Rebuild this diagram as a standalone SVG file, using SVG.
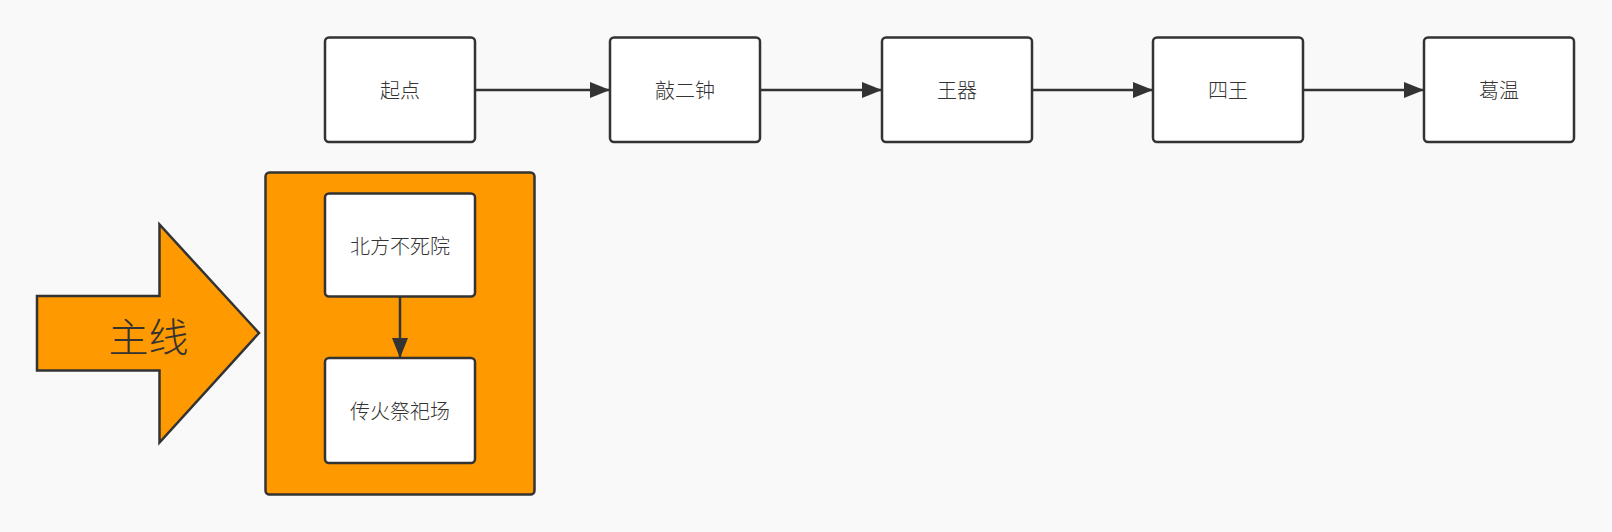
<svg xmlns="http://www.w3.org/2000/svg" width="1612" height="532" viewBox="0 0 1612 532">
<defs>
<marker id="ah" markerWidth="20" markerHeight="16" refX="20" refY="8" orient="auto" markerUnits="userSpaceOnUse">
<path d="M0,0 L20,8 L0,16 Z" fill="#333"/>
</marker>
<style>
.box{fill:#fff;stroke:#333;stroke-width:2.5}
.lbl{font-family:"Noto Sans CJK SC","Liberation Sans",sans-serif;font-size:20px;font-weight:300;fill:#333;text-anchor:middle;dominant-baseline:central}
.con{stroke:#333;stroke-width:2.5;fill:none}
</style>
</defs>
<rect width="1612" height="532" fill="#f9f9f9"/>
<g id="mainline">
<polygon points="37,296 159.5,296 159.5,224.5 259,333 159.5,442.5 159.5,370.5 37,370.5" fill="#ff9900" stroke="#333" stroke-width="2.5" stroke-linejoin="miter"/>
<text x="148.5" y="335" style="font-family:'Noto Sans CJK SC','Liberation Sans',sans-serif;font-size:40px;font-weight:300;fill:#333;text-anchor:middle;dominant-baseline:central">主线</text>
</g>
<g id="container">
<rect x="265.5" y="172.5" width="269" height="322" rx="4" fill="#ff9900" stroke="#333" stroke-width="2.5"/>
</g>
<g id="n_start"><rect class="box" x="325" y="37.5" width="150" height="104.5" rx="4"/><text class="lbl" x="400" y="89.5">起点</text></g>
<g id="n_bell"><rect class="box" x="610" y="37.5" width="150" height="104.5" rx="4"/><text class="lbl" x="685" y="89.5">敲二钟</text></g>
<g id="n_lordvessel"><rect class="box" x="882" y="37.5" width="150" height="104.5" rx="4"/><text class="lbl" x="957" y="89.5">王器</text></g>
<g id="n_fourkings"><rect class="box" x="1153" y="37.5" width="150" height="104.5" rx="4"/><text class="lbl" x="1228" y="89.5">四王</text></g>
<g id="n_gwyn"><rect class="box" x="1424" y="37.5" width="150" height="104.5" rx="4"/><text class="lbl" x="1499" y="89.5">葛温</text></g>
<g id="n_asylum"><rect class="box" x="325" y="193.5" width="150" height="103" rx="4"/><text class="lbl" x="400" y="245">北方不死院</text></g>
<g id="n_firelink"><rect class="box" x="325" y="358" width="150" height="105" rx="4"/><text class="lbl" x="400" y="410">传火祭祀场</text></g>
<g id="connectors">
<line class="con" x1="475" y1="90" x2="610" y2="90" marker-end="url(#ah)"/>
<line class="con" x1="760" y1="90" x2="882" y2="90" marker-end="url(#ah)"/>
<line class="con" x1="1032" y1="90" x2="1153" y2="90" marker-end="url(#ah)"/>
<line class="con" x1="1303" y1="90" x2="1424" y2="90" marker-end="url(#ah)"/>
<line class="con" x1="400" y1="296.5" x2="400" y2="358" marker-end="url(#ah)"/>
</g>
</svg>
